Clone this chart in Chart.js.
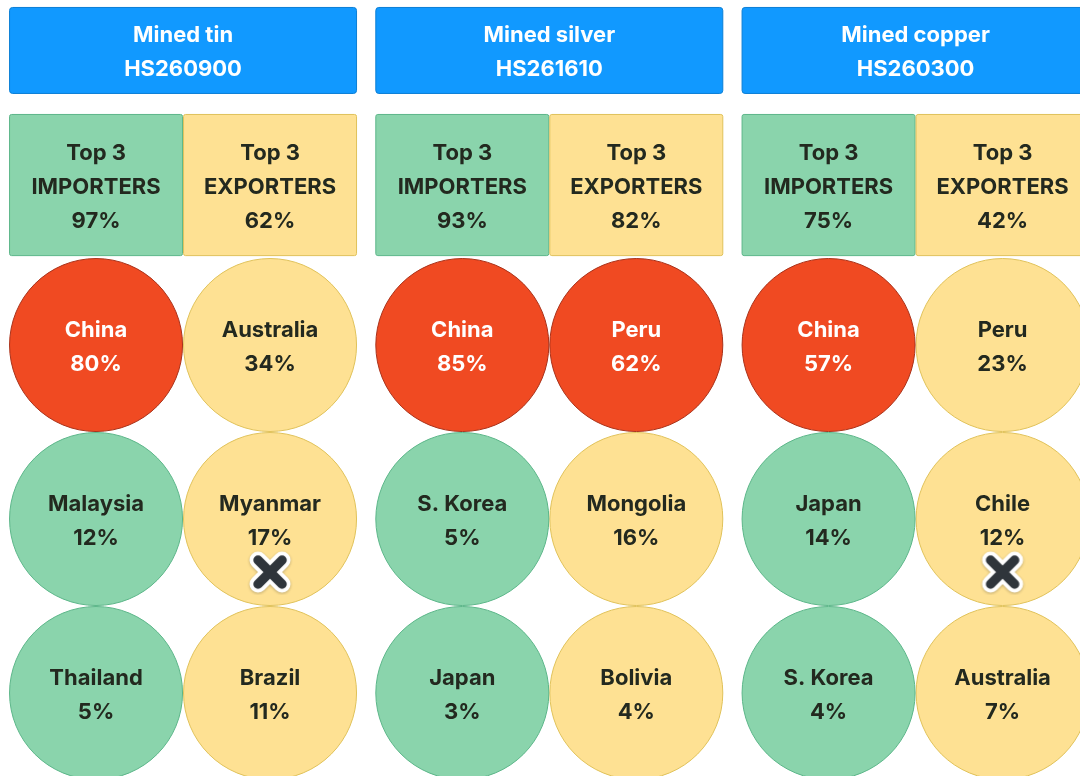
<!DOCTYPE html>
<html>
<head>
<meta charset="utf-8">
<script src="https://cdn.jsdelivr.net/npm/chart.js@4.4.0/dist/chart.umd.min.js"></script>
<style>
html,body{margin:0;padding:0;background:#fff;}
canvas{display:block;}
</style>
</head>
<body>
<canvas id="painel" width="1080" height="776"></canvas>
<script>
(function(){

// products and trade shares (%)
const minerals   = ['Mined tin','Mined silver','Mined copper'];
const hsCodes    = ['HS260900','HS261610','HS260300'];
const importTop3 = [97,93,75];
const exportTop3 = [62,82,42];

const importers     = [['China','Malaysia','Thailand'],['China','S. Korea','Japan'],['China','Japan','S. Korea']];
const importShares  = [[80,12,5],[85,5,3],[57,14,4]];
const exporters     = [['Australia','Myanmar','Brazil'],['Peru','Mongolia','Bolivia'],['Peru','Chile','Australia']];
const exportShares  = [[34,17,11],[62,16,4],[23,12,7]];

// exporters marked with a cross
const crossed = ['Myanmar','Chile'];

const COL_STEP = 2.105;   // x units between product columns
const RADIUS = 86.5;
const FONT = '700 22px Inter, "Noto Sans", sans-serif';
const DARK = '#23291f';

const COR = {
  red:    ['#f04a22','#a9321a'],
  green:  ['#8ad4ac','#5cb689'],
  yellow: ['#fee193','#e0c25a'],
  blue:   ['#1199ff','#0b7fd6']
};

function bubbles(names, shares, side){
  let pts=[];
  names.forEach((col,c)=>{
    col.forEach((nome,r)=>{
      pts.push({x:c*COL_STEP+side, y:r, nome:nome, v:shares[c][r]});
    });
  });
  return pts;
}

const impPts = bubbles(importers, importShares, 0);
const expPts = bubbles(exporters, exportShares, 1);
const crossPts = expPts.filter(p=>crossed.includes(p.nome)).map(p=>({x:p.x, y:p.y+0.305}));

function fillFor(side){
  return ctx=>{
    const p=ctx.raw; if(!p) return '#fff';
    if(p.v>50) return COR.red[0];
    return side===0?COR.green[0]:COR.yellow[0];
  };
}
function borderFor(side){
  return ctx=>{
    const p=ctx.raw; if(!p) return '#fff';
    if(p.v>50) return COR.red[1];
    return side===0?COR.green[1]:COR.yellow[1];
  };
}

// cross marker
const cruz=document.createElement('canvas');
cruz.width=cruz.height=46;
(function(){
  const g=cruz.getContext('2d');
  g.lineCap='round';
  const lines=()=>{g.beginPath();g.moveTo(11,11);g.lineTo(35,35);g.moveTo(35,11);g.lineTo(11,35);g.stroke();};
  g.shadowColor='rgba(0,0,0,0.25)'; g.shadowBlur=3; g.shadowOffsetY=1;
  g.strokeStyle='#ffffff'; g.lineWidth=17; lines();
  g.shadowColor='transparent';
  g.strokeStyle='#2f353b'; g.lineWidth=9.5; lines();
})();

function rrect(ctx,x,y,w,h,r){
  ctx.beginPath();
  ctx.moveTo(x+r,y);ctx.lineTo(x+w-r,y);ctx.quadraticCurveTo(x+w,y,x+w,y+r);
  ctx.lineTo(x+w,y+h-r);ctx.quadraticCurveTo(x+w,y+h,x+w-r,y+h);
  ctx.lineTo(x+r,y+h);ctx.quadraticCurveTo(x,y+h,x,y+h-r);
  ctx.lineTo(x,y+r);ctx.quadraticCurveTo(x,y,x+r,y);ctx.closePath();
}

// stacked text lines, 34px apart, centred on (x,y)
function lines(ctx,txt,x,y,cor){
  ctx.fillStyle=cor;
  const n=txt.length;
  txt.forEach((t,i)=>ctx.fillText(t,x,y+2+(i-(n-1)/2)*34));
}

// headers and top-3 boxes
const caixas={
  id:'caixas',
  beforeDatasetsDraw(chart){
    const ctx=chart.ctx, sx=chart.scales.x, sy=chart.scales.y;
    ctx.save();
    ctx.font=FONT; ctx.textAlign='center'; ctx.textBaseline='middle';
    minerals.forEach((m,c)=>{
      const x0=sx.getPixelForValue(c*COL_STEP-0.5);
      const xm=sx.getPixelForValue(c*COL_STEP+0.5);
      const x1=sx.getPixelForValue(c*COL_STEP+1.5);

      // header
      let y0=sy.getPixelForValue(-1.943), y1=sy.getPixelForValue(-1.443);
      rrect(ctx,x0+0.5,y0+0.5,x1-x0-1,y1-y0-1,3);
      ctx.fillStyle=COR.blue[0]; ctx.fill();
      ctx.strokeStyle=COR.blue[1]; ctx.lineWidth=1; ctx.stroke();
      lines(ctx,[m,hsCodes[c]],(x0+x1)/2,(y0+y1)/2,'#ffffff');

      // top 3
      y0=sy.getPixelForValue(-1.328); y1=sy.getPixelForValue(-0.511);
      rrect(ctx,x0+0.5,y0+0.5,xm-x0-1,y1-y0-1,2);
      ctx.fillStyle=COR.green[0]; ctx.fill(); ctx.strokeStyle=COR.green[1]; ctx.stroke();
      rrect(ctx,xm+0.5,y0+0.5,x1-xm-1,y1-y0-1,2);
      ctx.fillStyle=COR.yellow[0]; ctx.fill(); ctx.strokeStyle=COR.yellow[1]; ctx.stroke();
      lines(ctx,['Top 3','IMPORTERS',importTop3[c]+'%'],(x0+xm)/2,(y0+y1)/2,DARK);
      lines(ctx,['Top 3','EXPORTERS',exportTop3[c]+'%'],(xm+x1)/2,(y0+y1)/2,DARK);
    });
    ctx.restore();
  },
  afterDatasetsDraw(chart){
    const ctx=chart.ctx;
    ctx.save();
    ctx.font=FONT; ctx.textAlign='center'; ctx.textBaseline='middle';
    [0,1].forEach(i=>{
      const meta=chart.getDatasetMeta(i);
      meta.data.forEach((el,j)=>{
        const p=chart.data.datasets[i].data[j];
        lines(ctx,[p.nome,p.v+'%'],el.x,el.y,p.v>50?'#ffffff':DARK);
      });
    });
    ctx.restore();
  }
};

new Chart(document.getElementById('painel'),{
  type:'bubble',
  data:{
    datasets:[
      {label:'Importers',data:impPts,order:1,backgroundColor:fillFor(0),borderColor:borderFor(0),borderWidth:1,radius:RADIUS,clip:false},
      {label:'Exporters',data:expPts,order:1,backgroundColor:fillFor(1),borderColor:borderFor(1),borderWidth:1,radius:RADIUS,clip:false},
      {type:'scatter',label:'Crossed',data:crossPts,order:0,pointStyle:cruz,pointRadius:23,clip:false}
    ]
  },
  options:{
    responsive:false,
    animation:false,
    events:[],
    layout:{padding:0,autoPadding:false},
    plugins:{legend:{display:false},tooltip:{enabled:false}},
    scales:{
      x:{type:'linear',display:false,min:-0.552,max:5.655},
      y:{type:'linear',display:false,reverse:true,min:-1.983,max:2.477}
    }
  },
  plugins:[caixas]
});

})();
</script>
</body>
</html>
